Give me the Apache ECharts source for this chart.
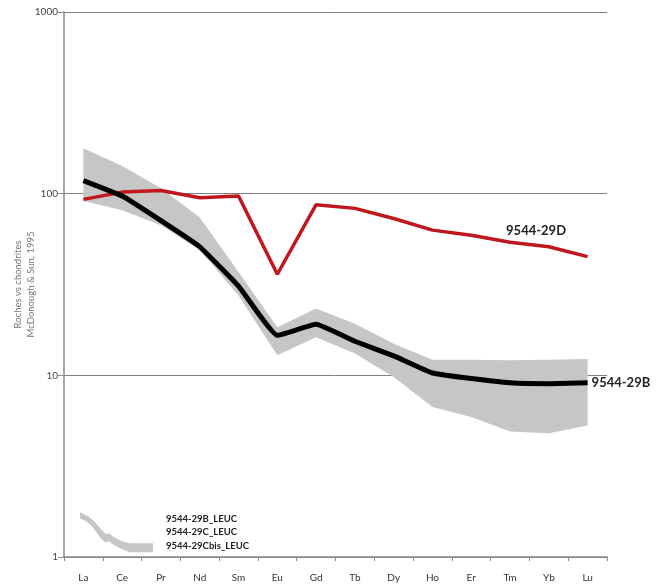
<!DOCTYPE html>
<html>
<head>
<meta charset="utf-8">
<script src="https://cdn.jsdelivr.net/npm/echarts@6/dist/echarts.min.js"></script>
<style>html,body{margin:0;padding:0;background:#fff}#c{width:660px;height:584px}</style>
</head>
<body>
<div id="c"></div>
<script>
const categories = ['La','Ce','Pr','Nd','Sm','Eu','Gd','Tb','Dy','Ho','Er','Tm','Yb','Lu'];
const sample29D = [93, 102, 104, 95, 97, 36, 87, 83, 73, 63, 59, 54, 51, 45];
const sample29B = [118, 97, 71, 51, 31, 16.6, 19.1, 15.4, 12.8, 10.3, 9.6, 9.1, 9.0, 9.1];
const bandUpper = [178, 142, 107, 74, 37, 18.4, 23.3, 19.2, 14.9, 12.2, 12.2, 12.1, 12.2, 12.3];
const bandLower = [91, 81, 67, 49, 27.5, 12.9, 16.2, 13.2, 9.8, 6.7, 5.9, 4.9, 4.8, 5.3];
const legendNames = ['9544-29B_LEUC', '9544-29C_LEUC', '9544-29Cbis_LEUC'];
const yTicks = [1, 10, 100, 1000];
const yTitle = ['Roches vs chondrites', 'McDonough & Sun, 1995'];
const label29D = '9544-29D';
const label29B = '9544-29B';
const label29DIndex = 11;

const FONT = 'Lato';
const chart = echarts.init(document.getElementById('c'), null, {renderer: 'canvas'});
const bandDiff = bandUpper.map((u, i) => u - bandLower[i]);

chart.setOption({
  animation: false,
  grid: {left: 64, right: 53, top: 12, bottom: 27, containLabel: false, outerBoundsMode: 'none'},
  legend: {
    left: 75, top: 507, orient: 'vertical', selectedMode: false,
    itemWidth: 73, itemHeight: 40,
    data: [{name: legendNames[0],
      icon: 'path://M0,0 L8,4 L14,9 L22,18 L26,22 L29,21 L34,25 L42,29 L50,31 L73,31 L73,40 L50,40 L42,37 L34,33 L29,29 L25,30 L20,25 L12,14 L6,9 L0,6 Z'}],
    formatter: () => legendNames.join('\n'),
    textStyle: {fontFamily: FONT, fontWeight: 'bold', fontSize: 9.5, lineHeight: 13.5, color: '#222', padding: [0, 0, 0, 8]}
  },
  xAxis: {
    type: 'category', data: categories, boundaryGap: true,
    axisLine: {lineStyle: {color: '#8a8a8a', width: 1.5}},
    axisTick: {show: true, length: 4, lineStyle: {color: '#8a8a8a'}},
    axisLabel: {fontFamily: FONT, fontSize: 10, color: '#333', margin: 16}
  },
  yAxis: {
    type: 'log', logBase: 10, min: 1, max: 1000,
    name: yTitle.join('\n'), nameLocation: 'middle', nameRotate: 90, nameGap: 27,
    nameMoveOverlap: false,
    nameTextStyle: {fontFamily: FONT, fontSize: 9.5, color: '#777', lineHeight: 13},
    axisLine: {show: true, lineStyle: {color: '#8a8a8a', width: 1.5}},
    axisTick: {show: true, length: 6, lineStyle: {color: '#8a8a8a'}},
    minorTick: {show: false},
    axisLabel: {fontFamily: FONT, fontSize: 10, color: '#444', margin: 6,
      formatter: v => yTicks.includes(Math.round(v)) ? String(Math.round(v)) : ''},
    splitLine: {show: true, lineStyle: {color: '#808080', width: 1}}
  },
  series: [
    {name: 'bandBase', type: 'line', stack: 'band', data: bandLower, symbol: 'none',
      lineStyle: {opacity: 0}, silent: true, z: 1},
    {name: legendNames[0], type: 'line', stack: 'band', data: bandDiff, symbol: 'none',
      lineStyle: {opacity: 0}, itemStyle: {color: '#c6c6c6'},
      areaStyle: {color: '#c6c6c6', opacity: 1}, silent: true, z: 1},
    {name: label29D, type: 'line', data: sample29D, symbol: 'none', smooth: false,
      lineStyle: {color: '#c0161c', width: 3.5}, itemStyle: {color: '#c0161c'}, z: 3,
      markPoint: {
        symbol: 'circle', symbolSize: 0, silent: true,
        data: [{coord: [categories[label29DIndex], sample29D[label29DIndex]]}],
        label: {show: true, position: 'top', offset: [26, 0], formatter: label29D,
          fontFamily: FONT, fontWeight: 'bold', fontSize: 13, color: '#222'}
      }},
    {name: label29B, type: 'line', data: sample29B, symbol: 'none', smooth: 0.1,
      lineStyle: {color: '#000', width: 5}, itemStyle: {color: '#000'}, z: 4,
      endLabel: {show: true, formatter: label29B, distance: 4,
        fontFamily: FONT, fontWeight: 'bold', fontSize: 13, color: '#222'}}
  ]
});
</script>
</body>
</html>
